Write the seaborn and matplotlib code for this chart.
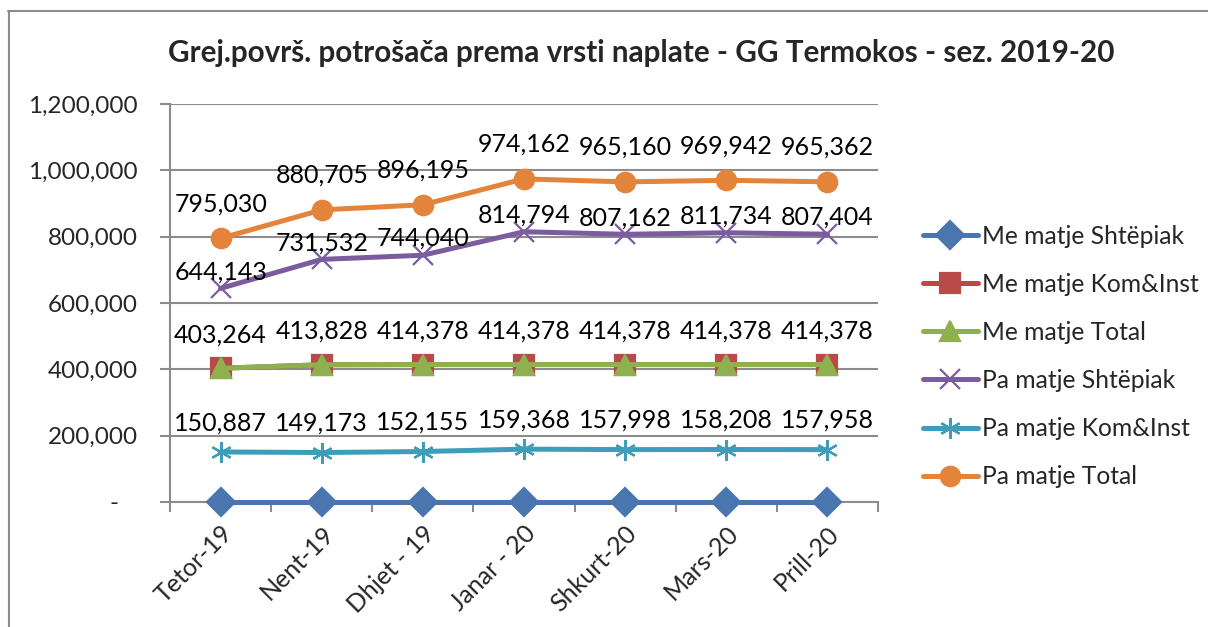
import matplotlib
matplotlib.use("Agg")
import matplotlib.pyplot as plt
from matplotlib.lines import Line2D
import seaborn as sns
import pandas as pd

months = ["Tetor-19", "Nent-19", "Dhjet - 19", "Janar - 20", "Shkurt-20", "Mars-20", "Prill-20"]
me_shtepiak = [0, 0, 0, 0, 0, 0, 0]
me_kom = [403264, 413828, 414378, 414378, 414378, 414378, 414378]
me_total = [403264, 413828, 414378, 414378, 414378, 414378, 414378]
pa_shtepiak = [644143, 731532, 744040, 814794, 807162, 811734, 807404]
pa_kom = [150887, 149173, 152155, 159368, 157998, 158208, 157958]
pa_total = [795030, 880705, 896195, 974162, 965160, 969942, 965362]

series_names = ["Me matje Shtëpiak", "Me matje Kom&Inst", "Me matje Total",
                "Pa matje Shtëpiak", "Pa matje Kom&Inst", "Pa matje Total"]
series_values = [me_shtepiak, me_kom, me_total, pa_shtepiak, pa_kom, pa_total]

yticks = [0, 200000, 400000, 600000, 800000, 1000000, 1200000]
ytick_labels = ["-   ", "200,000", "400,000", "600,000", "800,000", "1,000,000", "1,200,000"]

title = "Grej.površ. potrošača prema vrsti naplate - GG Termokos - sez. 2019-20"

sns.set_style("white")
plt.rcParams["font.family"] = ["Lato", "DejaVu Sans"]

colors = ["#4A76B0", "#B94A47", "#8FB04F", "#7B5C9E", "#3E9EBA", "#E3843A"]
markers = ["D", "s", "^", "x", (6, 2, 0), "o"]
msizes = [14, 14, 14, 14, 15, 14]
label_offsets = [None, None, 24, 12, 21, 25]  # points above the marker

fig = plt.figure(figsize=(12.08, 6.27), dpi=100)
ax = fig.add_axes([170 / 1208, 1 - 502 / 627, 708 / 1208, 398 / 627])

x_pos = list(range(len(months)))
fs = 18

for name, vals, c, m, ms, off in zip(series_names, series_values, colors, markers, msizes, label_offsets):
    df = pd.DataFrame({"x": x_pos, "y": vals})
    sns.lineplot(data=df, x="x", y="y", ax=ax, color=c, linewidth=3.6, marker=m,
                 markersize=ms, markeredgecolor=c, markerfacecolor=c, markeredgewidth=1.6,
                 label=name, sort=False, zorder=3, clip_on=False)
    if off is not None:
        for xi, v in zip(x_pos, vals):
            ax.annotate(f"{v:,.0f}", (xi, v), xytext=(0, off), textcoords="offset points",
                        ha="center", va="center", fontsize=fs, color="black", zorder=5)

ax.set_xlim(-0.5, len(months) - 0.5)
ax.set_ylim(0, 1200000)
ax.set_yticks(yticks)
ax.set_yticklabels(ytick_labels, fontsize=fs - 0.5)
ax.yaxis.grid(True, color="#8C8C8C", linewidth=1.5)
ax.set_axisbelow(True)
ax.tick_params(axis="y", length=7, width=1.5, color="#8C8C8C", pad=16, direction="out", left=True)

# category labels at centers without tick marks, tick marks at boundaries
ax.set_xticks(x_pos)
ax.set_xticklabels(months, rotation=45, ha="right", rotation_mode="anchor", fontsize=fs)
ax.tick_params(axis="x", which="major", length=0, pad=14)
ax.set_xticks([i - 0.5 for i in range(len(months) + 1)], minor=True)
ax.tick_params(axis="x", which="minor", length=7, width=1.5, color="#8C8C8C", direction="out", bottom=True)

for s in ["top", "right"]:
    ax.spines[s].set_visible(False)
for s in ["left", "bottom"]:
    ax.spines[s].set_color("#8C8C8C")
    ax.spines[s].set_linewidth(1.5)
    ax.spines[s].set_zorder(1)
ax.set_xlabel("")
ax.set_ylabel("")

ax.get_legend().remove()
handles, labels = ax.get_legend_handles_labels()
fig.legend(handles, labels, loc="upper left", bbox_to_anchor=(913 / 1208, 1 - 215 / 627),
           frameon=False, fontsize=17.7, handlelength=2.25, handletextpad=0.15,
           labelspacing=1.02, borderaxespad=0)

fig.text(641 / 1208, 1 - 53 / 627, title, ha="center", va="center", fontsize=21.3, fontweight="bold")

fig.add_artist(Line2D([8 / 1208, 1], [1 - 11 / 627, 1 - 11 / 627], transform=fig.transFigure,
                      color="#8C8C8C", linewidth=1.5))
fig.add_artist(Line2D([9 / 1208, 9 / 1208], [0, 1 - 11 / 627], transform=fig.transFigure,
                      color="#8C8C8C", linewidth=1.5))

fig.savefig("out.png", dpi=100)
